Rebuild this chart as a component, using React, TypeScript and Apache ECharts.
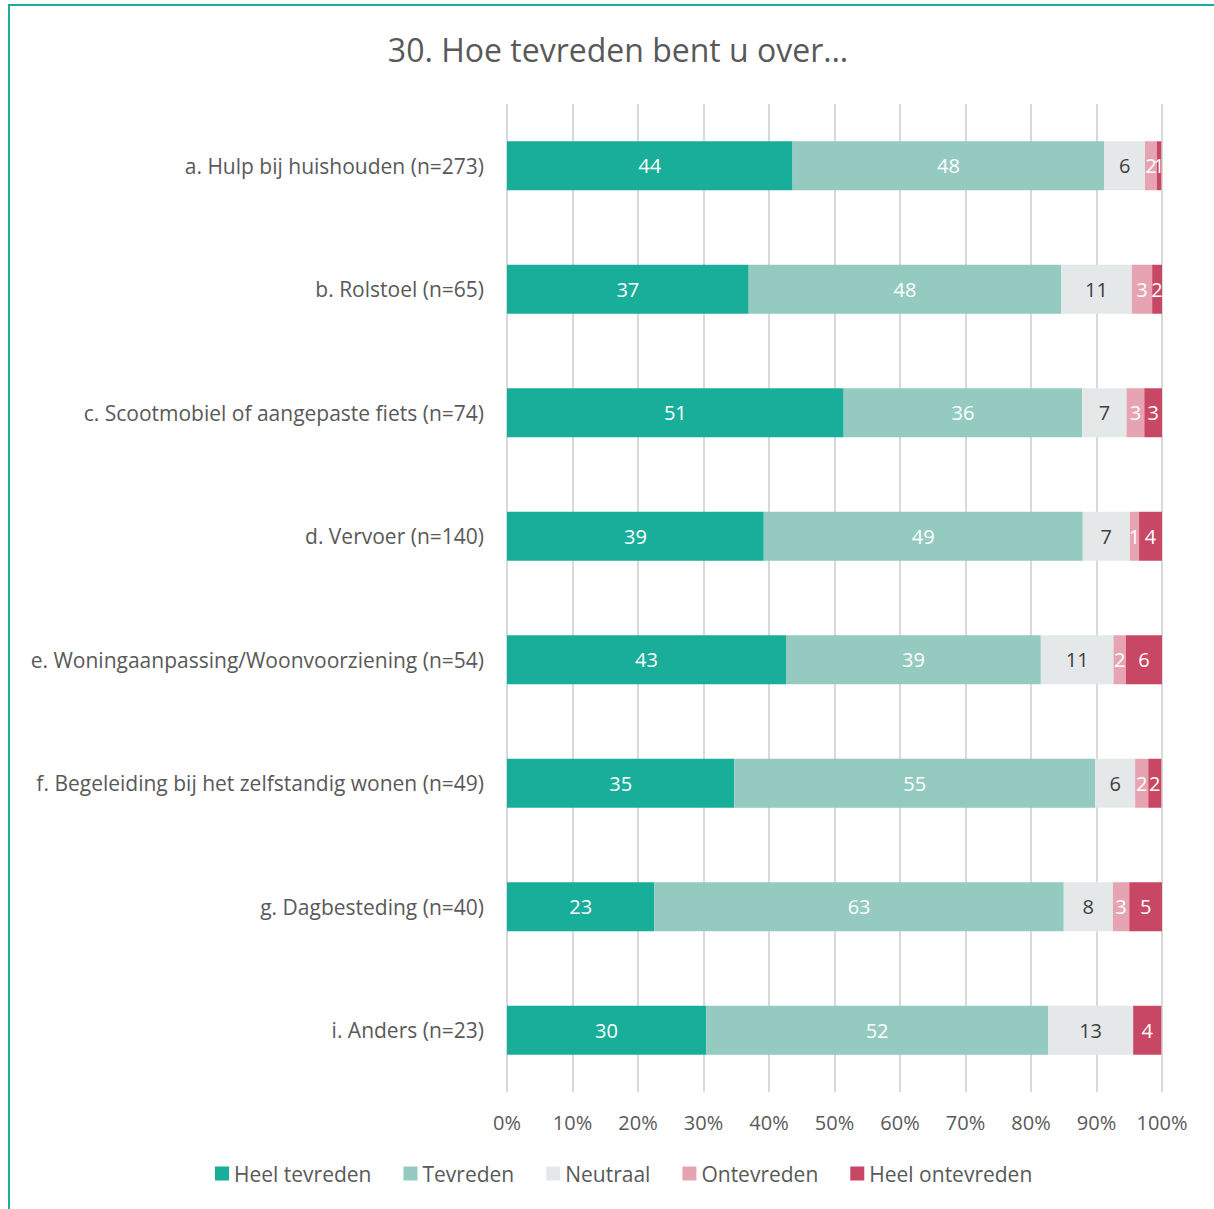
import React, { useEffect, useRef } from "react";
import * as echarts from "echarts";

const categories = [
  "a. Hulp bij huishouden (n=273)",
  "b. Rolstoel (n=65)",
  "c. Scootmobiel of aangepaste fiets (n=74)",
  "d. Vervoer (n=140)",
  "e. Woningaanpassing/Woonvoorziening (n=54)",
  "f. Begeleiding bij het zelfstandig wonen (n=49)",
  "g. Dagbesteding (n=40)",
  "i. Anders (n=23)",
];

const seriesNames = ["Heel tevreden", "Tevreden", "Neutraal", "Ontevreden", "Heel ontevreden"];

const heelTevreden = [43.6, 36.9, 51.4, 39.2, 42.6, 34.7, 22.5, 30.4];
const tevreden = [47.6, 47.7, 36.4, 48.7, 38.9, 55.1, 62.5, 52.2];
const neutraal = [6.2, 10.8, 6.8, 7.2, 11.1, 6.1, 7.5, 13.0];
const ontevreden = [1.8, 3.1, 2.7, 1.4, 1.9, 2.0, 2.5, 0];
const heelOntevreden = [0.7, 1.5, 2.7, 3.6, 5.6, 2.0, 5.0, 4.3];

const xTicks = [0, 10, 20, 30, 40, 50, 60, 70, 80, 90, 100];

const colors = ["#19AE9A", "#94CAC0", "#E4E8E9", "#E6A4B2", "#C84764"];
const labelColors = ["#ffffff", "#ffffff", "#404040", "#ffffff", "#ffffff"];

const FONT = "'Open Sans', 'Noto Sans', sans-serif";

export default function App() {
  const ref = useRef<HTMLDivElement>(null);
  useEffect(() => {
    if (!ref.current) return;
    const chart = echarts.init(ref.current, undefined, { renderer: "svg" });
    const values = [heelTevreden, tevreden, neutraal, ontevreden, heelOntevreden];
    const catsReversed = [...categories].reverse();
    chart.setOption({
      animation: false,
      backgroundColor: "#ffffff",
      textStyle: { fontFamily: FONT },
      title: {
        text: "30. Hoe tevreden bent u over…",
        left: 613,
        top: 28,
        textAlign: "center",
        textStyle: { fontFamily: FONT, fontSize: 32, fontWeight: "normal", color: "#595959" },
      },
      graphic: [
        {
          type: "rect",
          shape: { x: 9, y: 5, width: 1400, height: 1400 },
          style: { fill: "none", stroke: "#19AE9A", lineWidth: 2 },
          silent: true,
        },
      ],
      legend: {
        data: seriesNames,
        bottom: 20,
        left: 210,
        itemWidth: 14,
        itemHeight: 14,
        itemGap: 32,
        icon: "rect",
        textStyle: { fontFamily: FONT, fontSize: 21, color: "#595959" },
      },
      grid: { left: 507, right: 52, top: 104, height: 988, containLabel: false },
      xAxis: {
        type: "value",
        min: 0,
        max: 100,
        interval: 10,
        axisLine: { show: false },
        axisTick: { show: false },
        splitLine: { show: true, lineStyle: { color: "#D9D9D9", width: 2 } },
        axisLabel: {
          formatter: (v: number) => (xTicks.includes(v) ? v + "%" : ""),
          fontFamily: FONT,
          fontSize: 20,
          color: "#595959",
          margin: 20,
        },
      },
      yAxis: {
        type: "category",
        data: catsReversed,
        axisLine: { show: false },
        axisTick: { show: false },
        axisLabel: { fontFamily: FONT, fontSize: 21, color: "#595959", margin: 23 },
      },
      series: seriesNames.map((name, i) => ({
        name,
        type: "bar",
        stack: "total",
        barWidth: 49,
        itemStyle: { color: colors[i] },
        data: [...values[i]].reverse(),
        label: {
          show: true,
          position: "inside",
          fontFamily: FONT,
          fontSize: 20,
          color: labelColors[i],
          formatter: (p: any) => (p.value > 0 ? String(Math.round(p.value)) : ""),
        },
      })),
    });
    return () => chart.dispose();
  }, []);
  return (
    <div
      ref={ref}
      style={{ position: "fixed", left: 0, top: 0, width: 1214, height: 1209 }}
    />
  );
}
